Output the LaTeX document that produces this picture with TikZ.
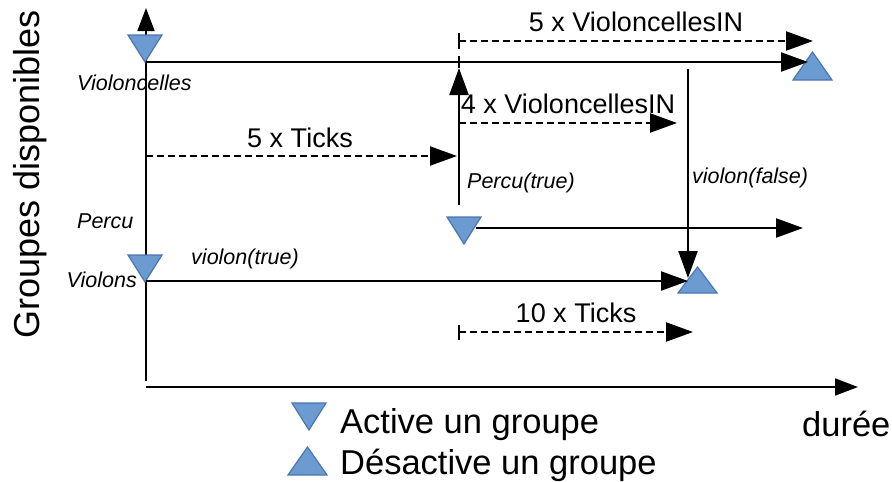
\documentclass[tikz,border=0pt]{standalone}
\usepackage{fontspec}
\setmainfont{Liberation Sans}
\usetikzlibrary{arrows.meta}
\definecolor{trifill}{RGB}{108,155,210}
\definecolor{tridraw}{RGB}{75,118,175}
\begin{document}
\begin{tikzpicture}[x=1pt,y=-1pt,
  ln/.style={line width=2.2pt},
  arr/.style={line width=2.2pt,-{Triangle[length=27pt,width=19pt]}},
  axarr/.style={line width=1.7pt,-{Triangle[length=23pt,width=17pt]}},
  darr/.style={arr,dash pattern=on 7pt off 4pt},
  tk/.style={line width=1.7pt},
  lbl/.style={font=\fontsize{21.5}{25}\selectfont\itshape,inner sep=0pt},
  big/.style={font=\fontsize{27}{31}\selectfont,inner sep=0pt},
  huge/.style={font=\fontsize{34.5}{40}\selectfont,inner sep=0pt},
  tri/.style={fill=trifill,draw=tridraw,line width=1.2pt,line join=miter}
]
\useasboundingbox (0,0) rectangle (892,482);
% coordinates
\coordinate (vtop) at (146,8);
\coordinate (vbot) at (146,381);
\coordinate (h0) at (146,387);
\coordinate (h1) at (858,387);
\coordinate (vc0) at (146,62);
\coordinate (vc1) at (808,62);
\coordinate (d50) at (459,41);
\coordinate (d51) at (813,41);
\coordinate (p0) at (459,205);
\coordinate (p1) at (459,68);
\coordinate (d40) at (459,123);
\coordinate (d41) at (677,123);
\coordinate (t50) at (146,156);
\coordinate (t51) at (457,156);
\coordinate (vf0) at (688,69);
\coordinate (vf1) at (688,278);
\coordinate (pc0) at (476,228);
\coordinate (pc1) at (803,228);
\coordinate (vt0) at (146,281);
\coordinate (vt1) at (688,281);
\coordinate (t100) at (459,332);
\coordinate (t101) at (693,332);

% axes
\draw[axarr] (vbot) -- (vtop);
\draw[axarr] (h0) -- (h1);

% triangles
\draw[tri] (128,35) -- (162,35) -- (145,62) -- cycle;
\draw[tri] (128,255) -- (162,255) -- (145,282) -- cycle;
\draw[tri] (447,217) -- (481,217) -- (464,244) -- cycle;
\draw[tri] (793,80) -- (832,80) -- (812.5,52) -- cycle;
\draw[tri] (678,293) -- (717,293) -- (697.5,267) -- cycle;
% legend triangles
\draw[tri] (292,403) -- (326,403) -- (309,430) -- cycle;
\draw[tri] (288,475) -- (327,475) -- (307.5,447) -- cycle;

% arrows
\draw[arr] (vc0) -- (vc1);
\draw[darr] (d50) -- (d51);
\draw[tk] (459,33) -- (459,49);
\draw[ln] (459,56) -- (p1);
\draw[arr] (p0) -- (p1);
\draw[darr] (d40) -- (d41);
\draw[tk] (459,116) -- (459,130);
\draw[darr] (t50) -- (t51);
\draw[tk] (146,149) -- (146,164);
\draw[arr] (pc0) -- (pc1);
\draw[arr] (vt0) -- (vt1);
\draw[arr] (vf0) -- (vf1);
\draw[darr] (t100) -- (t101);
\draw[tk] (459,325) -- (459,340);

% labels
\node[big,anchor=base] (l5vin) at (636,31) {5 x VioloncellesIN};
\node[big,anchor=base] (l4vin) at (568,113) {4 x VioloncellesIN};
\node[big,anchor=base] (l5t) at (300,147) {5 x Ticks};
\node[big,anchor=base] (l10t) at (576,322) {10 x Ticks};
\node[lbl,anchor=base west] (lvc) at (77,90) {Violoncelles};
\node[lbl,anchor=base west] (lpe) at (77,228) {Percu};
\node[lbl,anchor=base east] (lvi) at (137,287) {Violons};
\node[lbl,anchor=base] (lvt) at (245,264) {violon(true)};
\node[lbl,anchor=base west] (lpt) at (467,188) {Percu(true)};
\node[lbl,anchor=base west] (lvf) at (692,183) {violon(false)};
\node[huge,anchor=base west] (lact) at (340,433) {Active un groupe};
\node[huge,anchor=base west] (ldes) at (340,474) {Désactive un groupe};
\node[huge,anchor=base west] (ldur) at (802,436) {durée};
\node[font=\fontsize{36}{40}\selectfont,inner sep=0pt,rotate=90] (lgrp) at (30,174) {Groupes disponibles};
\end{tikzpicture}
\end{document}
